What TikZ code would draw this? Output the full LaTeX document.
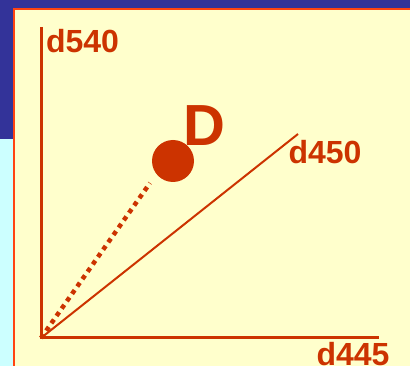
\documentclass[tikz,border=0pt]{standalone}
\usepackage{fontspec}
\setmainfont{Liberation Sans}
\definecolor{slideblue}{HTML}{333399}
\definecolor{slidecyan}{HTML}{CCFFFF}
\definecolor{paneyellow}{HTML}{FFFFCC}
\definecolor{paneedge}{HTML}{FF4411}
\definecolor{axisred}{HTML}{CC3300}
\tikzset{
  axislabel/.style={text=axisred, font=\fontsize{32}{32}\selectfont\bfseries, inner sep=0pt},
}
\begin{document}
\begin{tikzpicture}[x=1pt, y=-1pt]
\useasboundingbox (0,0) rectangle (410,366);
% background
\fill[slidecyan] (0,0) rectangle (410,366);
\fill[slideblue] (0,0) rectangle (410,139);
\fill[paneyellow] (14,9) rectangle (410,366);
\draw[paneedge, line width=2.2pt] (14,366) -- (14,9) -- (410,9);
% axes
\coordinate (origin) at (41,338);
\coordinate (top) at (41,27);
\coordinate (right) at (379,338);
\coordinate (diag) at (298,134);
\coordinate (dotend) at (150,183);
\draw[axisred, line width=3pt] (top) -- (origin) -- (right);
\draw[axisred, line width=2pt] (origin) -- (diag);
\draw[axisred, line width=4.5pt, dash pattern=on 4.5pt off 4.5pt] (origin) -- (dotend);
\node[circle, fill=axisred, minimum size=42pt, inner sep=0pt] (pointD) at (173,161) {};
% labels
\node[axislabel] (l540) at (82.5,41) {d540};
\node[axislabel] (l450) at (325,152) {d450};
\node[axislabel] (l445) at (353,354) {d445};
\node[axislabel, font=\fontsize{58}{58}\selectfont\bfseries] (labD) at (204,126) {D};
\end{tikzpicture}
\end{document}
